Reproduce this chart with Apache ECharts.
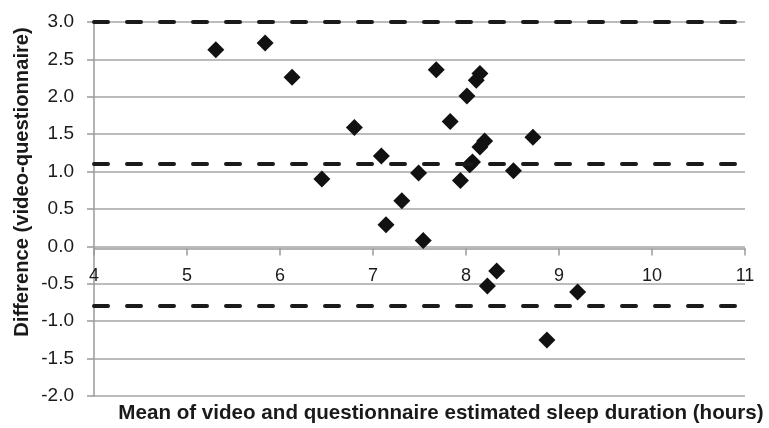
<!DOCTYPE html>
<html>
<head>
<meta charset="utf-8">
<script src="https://cdn.jsdelivr.net/npm/echarts@6/dist/echarts.min.js"></script>
<style>
html,body{margin:0;padding:0;background:#fff;}
#c{width:769px;height:428px;}
</style>
</head>
<body>
<div id="c"></div>
<script>
// Mean of video and questionnaire estimates (hours)
var meanVals = [5.31, 5.84, 6.13, 6.45, 6.80, 7.09, 7.14, 7.31, 7.49, 7.54, 7.68, 7.83, 7.94, 8.01, 8.04, 8.07, 8.11, 8.15, 8.15, 8.20, 8.23, 8.33, 8.51, 8.72, 8.87, 9.20];
// Difference (video - questionnaire)
var diffVals = [2.63, 2.72, 2.26, 0.90, 1.59, 1.21, 0.29, 0.61, 0.98, 0.08, 2.36, 1.67, 0.88, 2.01, 1.09, 1.13, 2.22, 2.31, 1.33, 1.41, -0.53, -0.33, 1.01, 1.46, -1.25, -0.61];
// Limits of agreement and mean difference
var limitVals = [3.0, 1.1, -0.8];
var xTitle = 'Mean of video and questionnaire estimated sleep duration (hours)';
var yTitle = 'Difference (video-questionnaire)';

var pts = meanVals.map(function (m, i) { return [m, diffVals[i]]; });
var font = 'Liberation Sans, Arial, Helvetica, sans-serif';
var chart = echarts.init(document.getElementById('c'));
var option = {
  animation: false,
  backgroundColor: '#fff',
  grid: { left: 94, right: 24, top: 22, bottom: 32 },
  xAxis: {
    type: 'value', min: 4, max: 11, interval: 1,
    position: 'bottom', offset: 0,
    splitLine: { show: false },
    axisLine: { onZero: false, lineStyle: { color: '#9a9a9a', width: 1.5 } },
    axisTick: { show: true, length: 7, lineStyle: { color: '#9a9a9a', width: 1.5 } },
    axisLabel: { fontSize: 18, color: '#1a1a1a', fontFamily: font, margin: 19 }
  },
  yAxis: {
    type: 'value', min: -2, max: 3, interval: 0.5,
    axisLine: { show: true, onZero: false, lineStyle: { color: '#9a9a9a', width: 1.5 } },
    axisTick: { show: true, length: 7, lineStyle: { color: '#9a9a9a', width: 1.5 } },
    splitLine: { lineStyle: { color: '#a6a6a6', width: 1.5 } },
    axisLabel: { fontSize: 19, color: '#1a1a1a', fontFamily: font, margin: 20,
      formatter: function (v) { return v.toFixed(1); } }
  },
  graphic: [
    { type: 'text', x: 441, y: 413, style: { text: xTitle, fontSize: 20.6, fontWeight: 'bold', fill: '#1a1a1a', fontFamily: font, textAlign: 'center', textVerticalAlign: 'middle' } },
    { type: 'text', x: 22, y: 182, rotation: Math.PI / 2, style: { text: yTitle, fontSize: 20.2, fontWeight: 'bold', fill: '#1a1a1a', fontFamily: font, textAlign: 'center', textVerticalAlign: 'middle' } }
  ],
  series: [{
    type: 'scatter',
    data: pts,
    symbol: 'diamond',
    symbolSize: 17,
    itemStyle: { color: '#111', opacity: 1 },
    markLine: {
      silent: true,
      symbol: 'none',
      label: { show: false },
      lineStyle: { color: '#1a1a1a', width: 4, type: [14, 19], cap: 'round', opacity: 1 },
      data: limitVals.map(function (v) { return { yAxis: v }; })
    },
    z: 3
  }]
};
chart.setOption(option);
// place the x axis where y = 0 (axis crosses at zero)
var zeroPix = chart.convertToPixel({ yAxisIndex: 0 }, 0);
var bottomPix = chart.convertToPixel({ yAxisIndex: 0 }, -2);
chart.setOption({ xAxis: { offset: -(bottomPix - zeroPix) } });
</script>
</body>
</html>
